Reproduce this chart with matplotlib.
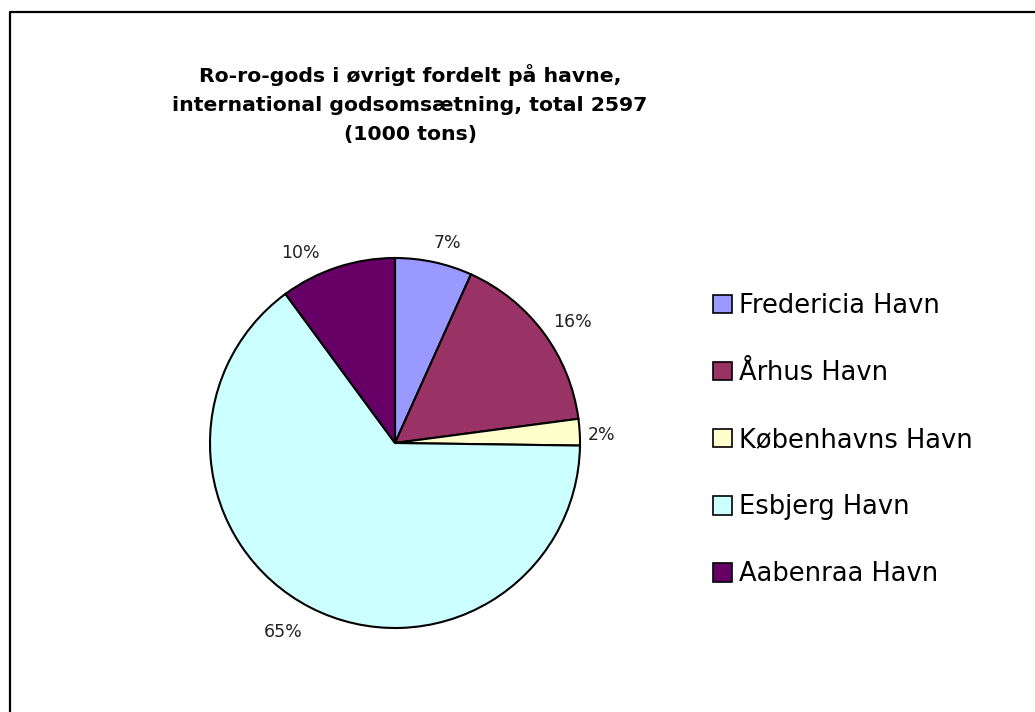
import matplotlib
matplotlib.use("Agg")
import matplotlib.pyplot as plt
from matplotlib.patches import Patch
from matplotlib.lines import Line2D

# Ro-ro-gods, 1000 tons (total 2597)
havne = ["Fredericia Havn", "Århus Havn", "Københavns Havn", "Esbjerg Havn", "Aabenraa Havn"]
tons = [175, 420, 60, 1680, 262]
farver = ["#9999FF", "#993366", "#FFFFCC", "#CCFFFF", "#660066"]

titel = "Ro-ro-gods i øvrigt fordelt på havne,\ninternational godsomsætning, total 2597\n(1000 tons)"

W, H = 1035, 712
fig = plt.figure(figsize=(W / 100, H / 100), dpi=100)
plt.rcParams["font.family"] = "DejaVu Sans"

# chart frame (only top/left edges visible in the reference)
fig.add_artist(Line2D([9.5 / W, 9.5 / W, 1.01], [-0.01, 1 - 11.5 / H, 1 - 11.5 / H],
                      transform=fig.transFigure, color="black", lw=1.6))

cx, cy, r = 395, 443, 185
ax = fig.add_axes([(cx - r) / W, (H - cy - r) / H, 2 * r / W, 2 * r / H])
wedges, texts, pcts = ax.pie(tons, colors=farver, startangle=90, counterclock=False,
                             autopct="%1.0f%%", pctdistance=1.14,
                             wedgeprops=dict(edgecolor="black", linewidth=1.5),
                             textprops=dict(fontsize=12.5, color="#222222"))
ax.set_xlim(-1, 1)
ax.set_ylim(-1, 1)
ax.set_aspect("auto")
ax.axis("off")

# nudge the percent labels a little, like Excel places them (pixels)
nudge = [(8, -6), (8, -5), (-4, -4), (-15, -1), (-29, -10)]
for t, (dx, dy) in zip(pcts, nudge):
    x, y = t.get_position()
    t.set_position((x + dx / r, y + dy / r))

fig.text(410 / W, 1 - 104 / H, titel, ha="center", va="center", fontsize=14.7,
         fontweight="bold", linespacing=1.66)

handles = [Patch(facecolor=c, edgecolor="black", linewidth=1.2) for c in farver]
fig.legend(handles, havne, loc="upper left", bbox_to_anchor=(713 / W, 1 - 293 / H),
           frameon=False, fontsize=18.5, handlelength=0.72, handleheight=0.72,
           handletextpad=0.3, labelspacing=1.6, borderpad=0, borderaxespad=0)

fig.savefig("out.png", dpi=100)
